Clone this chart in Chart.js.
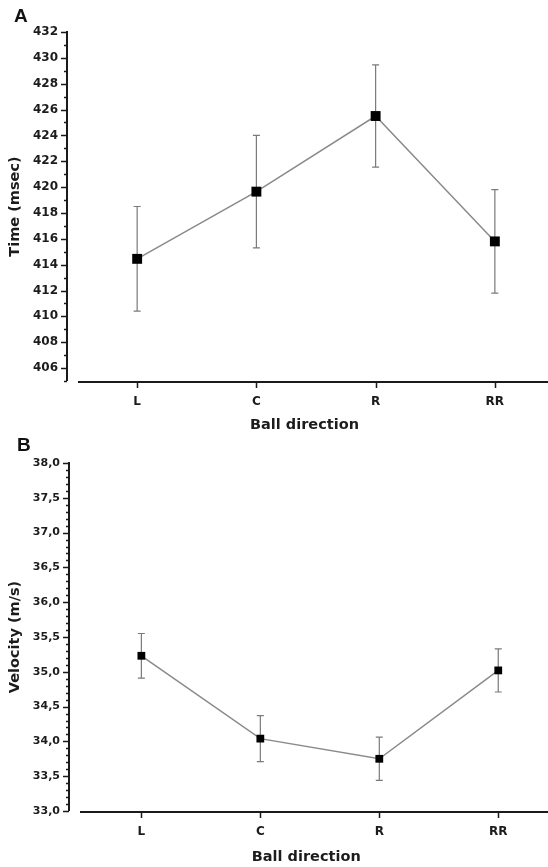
<!DOCTYPE html>
<html>
<head>
<meta charset="utf-8">
<script src="https://cdn.jsdelivr.net/npm/chart.js@4.4.1/dist/chart.umd.min.js"></script>
<style>
  html, body { margin: 0; padding: 0; background: #fff; }
  #wrap { position: relative; width: 548px; height: 867px; overflow: hidden; }
  .panel { position: absolute; left: 0; width: 548px; }
  .tag { position: absolute; font: bold 19px "Liberation Sans", Arial, sans-serif; color: #111; }
</style>
</head>
<body>
<div id="wrap">
  <div class="panel" style="top:0;height:440px"><canvas id="chartA" width="548" height="440"></canvas></div>
  <div class="panel" style="top:440px;height:427px"><canvas id="chartB" width="548" height="427"></canvas></div>
  <div class="tag" style="left:14px;top:5px">A</div>
  <div class="tag" style="left:17px;top:434px">B</div>
</div>
<script>
// categories (ball direction)
const categories = ['L', 'C', 'R', 'RR'];

// panel A : response time (msec), mean and error
const timeMeans = [414.45, 419.65, 425.5, 415.8];
const timeErrors = [4.05, 4.35, 3.95, 4.0];

// panel B : ball velocity (m/s), mean and error
const velocityMeans = [35.23, 34.04, 33.75, 35.02];
const velocityErrors = [0.32, 0.33, 0.31, 0.31];

// y tick labels
const timeTickLabels = ['406', '408', '410', '412', '414', '416', '418', '420', '422', '424', '426', '428', '430', '432'];
const velocityTickLabels = ['33,0', '33,5', '34,0', '34,5', '35,0', '35,5', '36,0', '36,5', '37,0', '37,5', '38,0'];

const TXT = '#1c1c1c';
const FONT = '"DejaVu Sans", Arial, sans-serif';

// error bars drawn behind the markers
const errorBars = {
    id: 'errorBars',
    beforeDatasetsDraw(chart) {
        const { ctx, scales: { x, y } } = chart;
        const ds = chart.data.datasets[0];
        ctx.save();
        ctx.strokeStyle = '#7a7a7a';
        ctx.lineWidth = 1.2;
        ds.data.forEach((p, i) => {
            const err = ds.errors[i];
            const px = x.getPixelForValue(p.x);
            const top = y.getPixelForValue(p.y + err);
            const bot = y.getPixelForValue(p.y - err);
            ctx.beginPath();
            ctx.moveTo(px, top); ctx.lineTo(px, bot);
            ctx.moveTo(px - 3.5, top); ctx.lineTo(px + 3.5, top);
            ctx.moveTo(px - 3.5, bot); ctx.lineTo(px + 3.5, bot);
            ctx.stroke();
        });
        ctx.restore();
    }
};

// axis lines and tick marks (long major, short minor)
const axisLines = {
    id: 'axisLines',
    afterDraw(chart) {
        const { ctx, chartArea, scales: { x, y } } = chart;
        const left = chartArea.left - 1;
        ctx.save();
        ctx.strokeStyle = '#1a1a1a';
        ctx.lineWidth = 2;
        ctx.beginPath();
        ctx.moveTo(left, y.top - 1);
        ctx.lineTo(left, y.bottom);
        ctx.moveTo(chartArea.left + 10, x.top + 1);
        ctx.lineTo(chart.width, x.top + 1);
        ctx.stroke();

        ctx.lineWidth = 1.5;
        ctx.beginPath();
        y.ticks.forEach(t => {
            const py = Math.round(y.getPixelForValue(t.value)) + 0.5;
            const len = t.label ? 6 : 3;
            ctx.moveTo(left, py);
            ctx.lineTo(left - len, py);
        });
        x.ticks.forEach(t => {
            const px = Math.round(x.getPixelForValue(t.value)) + 0.5;
            ctx.moveTo(px, x.top + 1);
            ctx.lineTo(px, x.top + 7);
        });
        ctx.stroke();
        ctx.restore();
    }
};

function makePanel(id, means, errors, tickLabels, opt) {
    const ctx = document.getElementById(id).getContext('2d');
    const minorValues = [];
    const n = Math.round((opt.max - opt.min) / opt.minor);
    for (let k = 0; k <= n; k++) minorValues.push(+(opt.min + k * opt.minor).toFixed(3));

    return new Chart(ctx, {
        type: 'line',
        data: {
            datasets: [{
                data: means.map((m, i) => ({ x: i, y: m })),
                errors: errors,
                borderColor: '#8a8a8a',
                borderWidth: 1.5,
                pointStyle: 'rect',
                pointRadius: opt.pointRadius,
                pointBackgroundColor: '#000',
                pointBorderColor: '#000',
                pointBorderWidth: 0,
                tension: 0,
                clip: false
            }]
        },
        options: {
            responsive: false,
            animation: false,
            layout: { padding: { top: opt.top, left: 0, right: 0, bottom: 0 } },
            plugins: { legend: { display: false }, tooltip: { enabled: false } },
            scales: {
                x: {
                    type: 'linear',
                    position: 'bottom',
                    min: opt.xMin,
                    max: opt.xMax,
                    afterBuildTicks: s => { s.ticks = categories.map((c, i) => ({ value: i })); },
                    afterFit: s => { s.height = opt.xHeight; },
                    border: { display: false },
                    grid: { drawOnChartArea: false, drawTicks: true, tickLength: 6, color: 'transparent', tickColor: 'transparent' },
                    ticks: {
                        autoSkip: false,
                        maxRotation: 0,
                        padding: 8,
                        color: TXT,
                        font: { family: FONT, weight: 'bold', size: 12 },
                        callback: v => categories[Math.round(v)] || ''
                    },
                    title: {
                        display: true,
                        text: 'Ball direction',
                        color: TXT,
                        font: { family: FONT, weight: 'bold', size: 14.5 },
                        padding: { top: 0, bottom: opt.titleBottom }
                    }
                },
                y: {
                    type: 'linear',
                    min: opt.min,
                    max: opt.max,
                    afterBuildTicks: s => { s.ticks = minorValues.map(v => ({ value: v })); },
                    afterFit: s => { s.width = opt.yWidth; },
                    border: { display: false },
                    grid: { drawOnChartArea: false, drawTicks: true, tickLength: 6, color: 'transparent', tickColor: 'transparent' },
                    ticks: {
                        autoSkip: false,
                        padding: 4,
                        color: TXT,
                        font: { family: FONT, weight: 'bold', size: opt.tickSize },
                        callback: v => {
                            const hit = tickLabels.find(l => Math.abs(parseFloat(l.replace(',', '.')) - v) < 1e-6);
                            return hit || '';
                        }
                    },
                    title: {
                        display: true,
                        text: opt.yTitle,
                        color: TXT,
                        font: { family: FONT, weight: 'bold', size: 14.5 },
                        padding: { top: 7, bottom: 0 }
                    }
                }
            }
        },
        plugins: [errorBars, axisLines]
    });
}

makePanel('chartA', timeMeans, timeErrors, timeTickLabels, {
    min: 405, max: 432, minor: 1,
    xMin: -0.58, xMax: 3.387,
    top: 32, yWidth: 68, xHeight: 59, titleBottom: 6,
    pointRadius: 7, tickSize: 12, yTitle: 'Time (msec)'
});

makePanel('chartB', velocityMeans, velocityErrors, velocityTickLabels, {
    min: 33, max: 38, minor: 0.1,
    xMin: -0.6, xMax: 3.372,
    top: 23, yWidth: 70, xHeight: 56, titleBottom: 1,
    pointRadius: 5.5, tickSize: 11, yTitle: 'Velocity (m/s)'
});
</script>
</body>
</html>
